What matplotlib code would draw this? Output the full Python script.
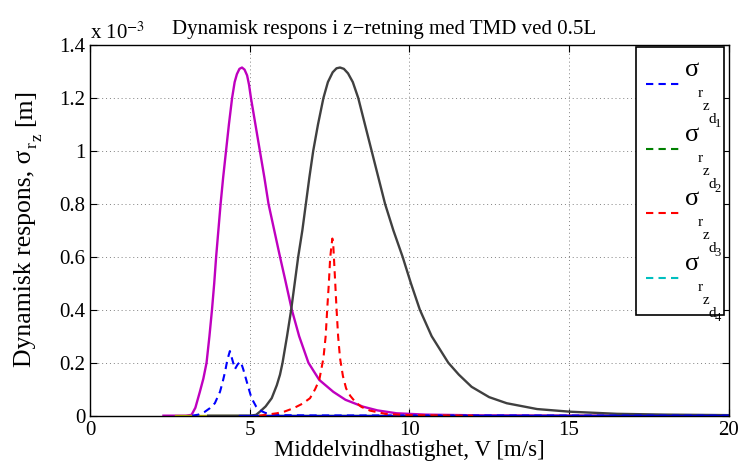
import matplotlib.pyplot as plt
import numpy as np
from matplotlib.ticker import FuncFormatter

plt.rcParams['font.family'] = ['Liberation Serif', 'DejaVu Serif']
plt.rcParams['mathtext.fontset'] = 'stix'

# Wind speed V [m/s] and response [1e-3 m]
mag_v = [2.3, 3.0, 3.18, 3.3, 3.44, 3.55, 3.65, 3.74, 3.82, 3.89, 3.95, 4.02, 4.09,
         4.17, 4.26, 4.35, 4.45, 4.53, 4.6, 4.68, 4.76, 4.84, 4.92, 4.98, 5.04, 5.18,
         5.32, 5.46, 5.59, 5.77, 5.95, 6.1, 6.32, 6.55, 6.84, 7.18, 7.62, 8.0, 8.55,
         9.0, 9.6, 10.5, 12.0, 15.0, 20.0]
mag_resp = [0, 0, 0.003, 0.03, 0.09, 0.14, 0.2, 0.3, 0.4, 0.5, 0.6, 0.7, 0.8,
            0.9, 1.0, 1.1, 1.2, 1.26, 1.29, 1.31, 1.315, 1.307, 1.285, 1.25, 1.2, 1.1,
            1.0, 0.9, 0.8, 0.7, 0.6, 0.52, 0.4, 0.3, 0.2, 0.135, 0.09, 0.06, 0.034,
            0.02, 0.009, 0.004, 0.0015, 0.0005, 0.0002]

gray_v = [3.7, 5.0, 5.2, 5.32, 5.5, 5.69, 5.85, 5.95, 6.03, 6.17, 6.3, 6.41, 6.52,
          6.65, 6.76, 6.87, 6.99, 7.14, 7.31, 7.45, 7.6, 7.72, 7.83, 7.95, 8.08, 8.23,
          8.4, 8.61, 8.82, 9.03, 9.24, 9.5, 9.79, 10.05, 10.33, 10.7, 11.22, 11.55,
          11.95, 12.5, 13.05, 14.0, 15.03, 16.5, 18.0, 20.0]
gray_resp = [0, 0, 0.003, 0.015, 0.035, 0.066, 0.115, 0.155, 0.2, 0.3, 0.4, 0.5, 0.6,
             0.7, 0.8, 0.9, 1.0, 1.1, 1.2, 1.26, 1.297, 1.312, 1.315, 1.31, 1.293, 1.26,
             1.2, 1.1, 1.0, 0.9, 0.8, 0.7, 0.6, 0.5, 0.4, 0.3, 0.2, 0.155,
             0.109, 0.07, 0.047, 0.025, 0.015, 0.007, 0.004, 0.002]

yellow_v = [2.7, 20.0]
yellow_resp = [0, 0]

blue_v = [4.7, 20.0]
blue_resp = [0, 0]

d1_v = [3.2, 3.4, 3.6, 3.75, 3.91, 4.07, 4.15, 4.23, 4.3, 4.38, 4.46, 4.54, 4.63,
        4.72, 4.8, 4.91, 5.0, 5.06, 5.2, 5.32, 5.5, 5.64, 6.0, 7.0, 20.0]
d1_resp = [0, 0.004, 0.015, 0.028, 0.047, 0.09, 0.125, 0.166, 0.21, 0.244, 0.21, 0.176, 0.195,
           0.204, 0.175, 0.128, 0.09, 0.066, 0.035, 0.02, 0.01, 0.006, 0.002, 0.001, 0]

d2_v = [4.7, 20.0]
d2_resp = [0, 0]

d3_v = [5.3, 5.85, 6.1, 6.37, 6.65, 6.89, 7.05, 7.18, 7.31, 7.38, 7.43, 7.48, 7.52,
        7.56, 7.59, 7.62, 7.64, 7.68, 7.72, 7.77, 7.83, 7.92, 8.02, 8.15, 8.3, 8.5,
        8.77, 9.29, 10.0, 12.0]
d3_resp = [0, 0.009, 0.016, 0.028, 0.045, 0.066, 0.1, 0.135, 0.217, 0.3, 0.405, 0.5, 0.594,
           0.64, 0.669, 0.64, 0.594, 0.5, 0.405, 0.3, 0.217, 0.15, 0.103, 0.075, 0.053, 0.033,
           0.019, 0.006, 0.002, 0]

d4_v = [4.7, 20.0]
d4_resp = [0, 0]

damper_ids = ['1', '2', '3', '4']

scale = 1e-3
fig = plt.figure(figsize=(7.42, 4.66), dpi=100)
ax = fig.add_axes([0.1213, 0.108, 0.8607, 0.7954])

dash = (3.5, 2.5)
h2, = ax.plot(d2_v, np.array(d2_resp) * scale, color='#008000', lw=1.5, dashes=dash)
h4, = ax.plot(d4_v, np.array(d4_resp) * scale, color='#00BFBF', lw=1.5, dashes=dash)
ax.plot(mag_v, np.array(mag_resp) * scale, color='#BF00BF', lw=1.7)
ax.plot(yellow_v, np.array(yellow_resp) * scale, color='#BFBF00', lw=1.7)
ax.plot(gray_v, np.array(gray_resp) * scale, color='#404040', lw=1.7)
ax.plot(blue_v, np.array(blue_resp) * scale, color='#0000FF', lw=1.7)
h1, = ax.plot(d1_v, np.array(d1_resp) * scale, color='#0000FF', lw=1.5, dashes=dash)
h3, = ax.plot(d3_v, np.array(d3_resp) * scale, color='#FF0000', lw=1.5, dashes=dash)

ax.set_xlim(0, 20)
ax.set_ylim(0, 1.4e-3)
ax.set_xticks([0, 5, 10, 15, 20])
ax.set_yticks(np.arange(0, 1.41, 0.2) * scale)
ax.yaxis.set_major_formatter(FuncFormatter(lambda v, p: f'{round(v / scale, 6):g}'))
ax.tick_params(direction='in', top=True, right=True, labelsize=15, length=5, width=0.8)
ax.grid(True, linestyle=(0, (1, 3)), color='#808080', lw=0.7)
for s in ax.spines.values():
    s.set_linewidth(1.0)

ax.text(0, 1.004, r'x 10$^{-3}$', transform=ax.transAxes, ha='left', va='bottom', fontsize=15)
ax.set_title('Dynamisk respons i z\u2212retning med TMD ved 0.5L', fontsize=15, x=0.46, pad=8)
ax.set_xlabel('Middelvindhastighet, V [m/s]', fontsize=16.5, labelpad=0)

# y label: sigma with MATLAB-style stacked subscripts r, z, then the unit
ylab = ax.set_ylabel('Dynamisk respons, \u03c3', fontsize=18.5)
ax.yaxis.set_label_coords(-0.085, 0.425)
for s, dx, dy, fs in [('r', 1, 1, 12.5), ('z', 6, 8, 12.5), ('[m]', -5, 23, 18.5)]:
    ax.annotate(s, xy=(1, 1), xycoords=ylab, xytext=(dx, dy), textcoords='offset pixels',
                rotation=90, rotation_mode='anchor', ha='left', va='baseline',
                fontsize=fs, annotation_clip=False, zorder=6)

# legend with blank label blocks; sigma and MATLAB-style stacked subscripts placed on them
labels = ['     \n     ' for _ in damper_ids]
leg = ax.legend([h1, h2, h3, h4], labels, loc='upper right',
                bbox_to_anchor=(0.9928, 0.9946), borderaxespad=0, fontsize=17,
                fancybox=False, framealpha=1, edgecolor='black', handlelength=1.48,
                handletextpad=0.15, labelspacing=0.41, borderpad=0.42)
leg.get_frame().set_linewidth(1.2)
for t, d in zip(leg.get_texts(), damper_ids):
    t.set_linespacing(1.8)
    parts = [('\u03c3', 0, 8, 19), ('r', 13, -13, 11), ('z', 18, -26, 11),
             ('d', 24, -39, 11), (d, 30, -43, 9)]
    for s, dx, dy, fs in parts:
        ax.annotate(s, xy=(0, 0.5), xycoords=t, xytext=(dx, dy), textcoords='offset pixels',
                    ha='left', va='baseline', fontsize=fs, annotation_clip=False, zorder=6)

fig.savefig('out.png', dpi=100)
